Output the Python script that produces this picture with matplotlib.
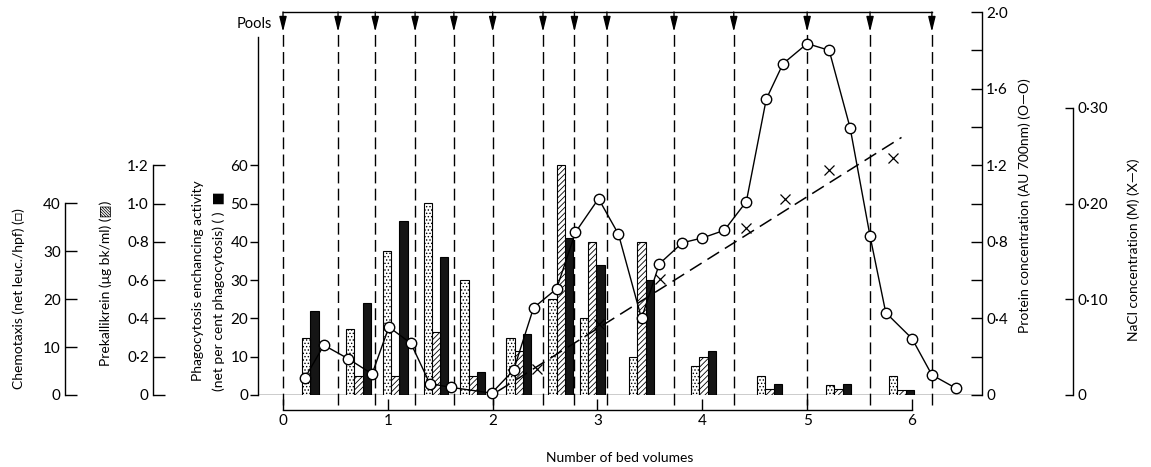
import numpy as np
import matplotlib
matplotlib.use('Agg')
import matplotlib.pyplot as plt

plt.rcParams['font.family'] = ['Lato', 'DejaVu Sans']
plt.rcParams['hatch.linewidth'] = 0.6

# pool boundaries (bed volumes)
pools = [0, 0.525, 0.88, 1.26, 1.63, 2.0, 2.48, 2.78, 3.09, 3.73, 4.30, 5.0, 5.60, 6.19]

# bar groups: centre of each fraction group and the three activities
group_x = [0.26, 0.72, 1.07, 1.46, 1.81, 2.25, 2.65, 2.95, 3.42, 4.01, 4.64, 5.30, 5.90]
chemotaxis = [12, 13.7, 30, 40, 24, 12, 20, 16, 8, 6, 4, 2, 4]
prekallikrein = [np.nan, 0.1, 0.1, 0.33, 0.1, 0.23, 1.2, 0.8, 0.8, 0.2, 0.03, 0.03, 0.025]
phagocytosis = [22, 24, 45.5, 36, 6, 16, 41, 34, 30, 11.5, 3, 3, 1.3]

# protein (AU 700nm)
protein_x = [0.21, 0.39, 0.62, 0.85, 1.01, 1.22, 1.40, 1.60, 1.99, 2.20, 2.39, 2.61,
             2.79, 3.01, 3.20, 3.42, 3.59, 3.81, 4.00, 4.21, 4.42, 4.61, 4.77, 5.00,
             5.21, 5.41, 5.60, 5.75, 6.00, 6.19, 6.42]
protein = [0.09, 0.26, 0.19, 0.11, 0.355, 0.27, 0.06, 0.04, 0.01, 0.13, 0.455, 0.555,
           0.85, 1.025, 0.84, 0.40, 0.685, 0.795, 0.82, 0.86, 1.01, 1.545, 1.73, 1.835,
           1.80, 1.395, 0.83, 0.43, 0.295, 0.105, 0.035]

# NaCl (M)
nacl_x = [2.42, 3.01, 3.60, 4.42, 4.79, 5.21, 5.82]
nacl = [0.027, 0.074, 0.121, 0.174, 0.205, 0.235, 0.247]
gradient_x = [2.05, 5.90]
gradient = [0.004, 0.269]

phago_ticks = [0, 10, 20, 30, 40, 50, 60]
chemo_ticks = [0, 10, 20, 30, 40]
prek_ticks = [0, 0.2, 0.4, 0.6, 0.8, 1.0, 1.2]
prek_labels = ['0', '0·2', '0·4', '0·6', '0·8', '1·0', '1·2']
protein_ticks = [0, 0.4, 0.8, 1.2, 1.6, 2.0]
protein_labels = ['0', '0·4', '0·8', '1·2', '1·6', '2·0']
protein_minor = [0.2, 0.6, 1.0, 1.4, 1.8]
nacl_ticks = [0, 0.1, 0.2, 0.3]
nacl_labels = ['0', '0·10', '0·20', '0·30']
bed_ticks = [0, 1, 2, 3, 4, 5, 6]

W, H = 1151, 467
fig = plt.figure(figsize=(W / 100, H / 100), dpi=100)
ax = fig.add_axes([258 / W, 72 / H, 724 / W, 383 / H])
ax.set_xlim(-0.2385, 6.668)
ax.set_ylim(0, 100)

ax_c = ax.twinx()
ax_c.set_ylim(0, 80)
ax_p = ax.twinx()
ax_p.set_ylim(0, 2.0)
ax_pr = ax.twinx()
ax_pr.set_ylim(0, 2.0)
ax_n = ax.twinx()
ax_n.set_ylim(0, 0.4)

for a in [ax, ax_c, ax_p, ax_pr, ax_n]:
    for s in a.spines.values():
        s.set_visible(False)
        s.set_linewidth(1.0)

# phagocytosis axis (main, left)
ax.spines['left'].set_visible(True)
ax.spines['left'].set_bounds(0, 93.5)
ax.set_yticks(phago_ticks)
ax.set_yticklabels([str(t) for t in phago_ticks])
ax.tick_params(axis='y', direction='out', length=6, width=1, labelsize=11, pad=1)

# bed volume axis
ax.spines['bottom'].set_visible(True)
ax.spines['bottom'].set_position(('outward', 11))
ax.spines['bottom'].set_bounds(0, 6)
ax.set_xticks(bed_ticks)
ax.set_xticklabels([str(t) for t in bed_ticks])
ax.tick_params(axis='x', direction='in', length=8, width=1, labelsize=11, pad=3)
ax.set_xlabel('Number of bed volumes', fontsize=10, labelpad=17)
ax.axhline(0, color='k', lw=1)

# chemotaxis axis
ax_c.yaxis.tick_left()
ax_c.spines['left'].set_visible(True)
ax_c.spines['left'].set_position(('axes', -0.2666))
ax_c.spines['left'].set_bounds(0, 40)
ax_c.set_yticks(chemo_ticks)
ax_c.set_yticklabels([str(t) for t in chemo_ticks])
ax_c.tick_params(axis='y', direction='in', length=8.5, width=1, labelsize=11, pad=3)

# prekallikrein axis
ax_p.yaxis.tick_left()
ax_p.spines['left'].set_visible(True)
ax_p.spines['left'].set_position(('axes', -0.145))
ax_p.spines['left'].set_bounds(0, 1.2)
ax_p.set_yticks(prek_ticks)
ax_p.set_yticklabels(prek_labels)
ax_p.tick_params(axis='y', direction='in', length=8.5, width=1, labelsize=11, pad=3)

# protein axis
ax_pr.spines['right'].set_visible(True)
ax_pr.spines['right'].set_bounds(0, 2.0)
ax_pr.set_yticks(protein_ticks)
ax_pr.set_yticklabels(protein_labels)
ax_pr.set_yticks(protein_minor, minor=True)
ax_pr.tick_params(axis='y', which='both', direction='in', length=8, width=1, labelsize=11, pad=3)

# NaCl axis
ax_n.spines['right'].set_visible(True)
ax_n.spines['right'].set_position(('axes', 1.1257))
ax_n.spines['right'].set_bounds(0, 0.3)
ax_n.set_yticks(nacl_ticks)
ax_n.set_yticklabels(nacl_labels)
ax_n.tick_params(axis='y', direction='in', length=6, width=1, labelsize=11, pad=3)

# pools: top line, arrows and dashed cuts
ax.plot([pools[0], pools[-1]], [100, 100], color='k', lw=1, clip_on=False)
for p in pools:
    ax.annotate('', xy=(p, 94.8), xytext=(p, 100),
                arrowprops=dict(arrowstyle='-|>,head_length=0.9,head_width=0.22',
                                color='k', lw=1, shrinkA=0, shrinkB=0))
    ax.plot([p, p], [-2.5, 94.8], color='k', lw=1, ls=(0, (8.5, 3.8)), clip_on=False)
ax.text(-0.44, 96.8, 'Pools', fontsize=10.5, ha='left', va='center')

# bars
bar_w = 0.079
stip = dict(facecolor='white', edgecolor='k', hatch='.....', linewidth=0.8)
hatch = dict(facecolor='white', edgecolor='k', hatch='//////', linewidth=0.8)
solid = dict(facecolor='#151515', edgecolor='k', linewidth=0.8)
for i, xc in enumerate(group_x):
    items = [(ax_c, chemotaxis[i], stip), (ax_p, prekallikrein[i], hatch),
             (ax, phagocytosis[i], solid)]
    items = [t for t in items if not np.isnan(t[1])]
    n = len(items)
    for k, (a, v, st) in enumerate(items):
        a.bar(xc + (k - (n - 1) / 2) * bar_w, v, bar_w, **st)

# NaCl gradient and points
ax_n.plot(gradient_x, gradient, color='k', lw=1.1, ls=(0, (9, 4.5)))
ax_n.plot(nacl_x, nacl, 'x', color='k', ms=7.5, mew=0.9)

# protein curve
ax_pr.plot(protein_x, protein, '-o', color='k', lw=1, mfc='white', mec='k',
           ms=7.5, mew=1, clip_on=False)

# axis titles
def ftext(x, y, s, **kw):
    fig.text(x / W, 1 - y / H, s, rotation=90, ha='center', va='center',
             fontsize=10, **kw)

ftext(19, 299, 'Chemotaxis (net leuc./hpf) (□)')
ftext(106, 283, 'Prekallikrein (μg bk/ml) (▨)')
ftext(198, 281, 'Phagocytosis enchancing activity')
ftext(219, 291, '(net per cent phagocytosis) ( )  ■')
ftext(1025, 206, 'Protein concentration (AU 700nm) (O—O)')
ftext(1134, 250, 'NaCl concentration (M) (X—X)')

fig.savefig('out.png', dpi=100)
